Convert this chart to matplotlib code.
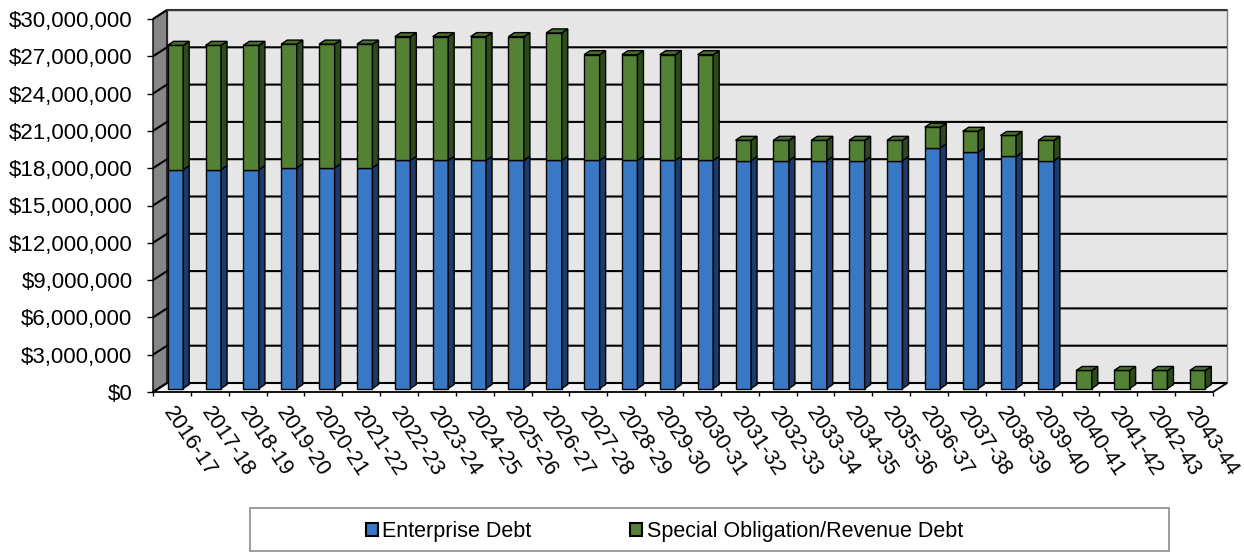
import numpy as np
import matplotlib
matplotlib.use("Agg")
import matplotlib.pyplot as plt
from matplotlib.patches import Polygon, Patch, Rectangle
from matplotlib.ticker import FuncFormatter
import matplotlib.transforms as mtrans

plt.rcParams['font.family'] = ['Liberation Sans', 'DejaVu Sans']

# ---------------- data ----------------
fiscal_years = ["2016-17", "2017-18", "2018-19", "2019-20", "2020-21", "2021-22",
                "2022-23", "2023-24", "2024-25", "2025-26", "2026-27", "2027-28",
                "2028-29", "2029-30", "2030-31", "2031-32", "2032-33", "2033-34",
                "2034-35", "2035-36", "2036-37", "2037-38", "2038-39", "2039-40",
                "2040-41", "2041-42", "2042-43", "2043-44"]
enterprise_debt = [17600000, 17600000, 17600000, 17750000, 17750000, 17750000,
                   18350000, 18350000, 18350000, 18350000, 18350000, 18350000,
                   18350000, 18350000, 18350000, 18330000, 18330000, 18330000,
                   18330000, 18330000, 19360000, 19000000, 18660000, 18330000,
                   0, 0, 0, 0]
special_debt = [10000000, 10000000, 10000000, 9950000, 9950000, 9950000,
                9950000, 9950000, 9950000, 9950000, 10250000, 8500000,
                8500000, 8500000, 8500000, 1630000, 1630000, 1630000,
                1630000, 1630000, 1660000, 1690000, 1690000, 1630000,
                1450000, 1450000, 1450000, 1450000]
series_names = ["Enterprise Debt", "Special Obligation/Revenue Debt"]
y_ticks = [0, 3000000, 6000000, 9000000, 12000000, 15000000, 18000000,
           21000000, 24000000, 27000000, 30000000]

# ---------------- style / layout ----------------
W, H, DPI = 1244, 552, 100
FRONT_L, FRONT_R, FRONT_B, FRONT_T = 153, 1213, 392, 19
WALL_DEPTH = (14, 9)       # px (right, up)
BAR_OFFSET = (3.5, 3.5)    # px
BAR_DEPTH = (6.0, 4.0)     # px
BAR_W = 0.41

blue_front, blue_side, blue_top = "#3878C4", "#1B3C6B", "#2C5F9E"
green_front, green_side, green_top = "#548235", "#2C4A1B", "#466F2C"

fig = plt.figure(figsize=(W / DPI, H / DPI), dpi=DPI)
ax = fig.add_axes([FRONT_L / W, (H - FRONT_B) / H,
                   (FRONT_R - FRONT_L) / W, (FRONT_B - FRONT_T) / H])
n = len(fiscal_years)
ymax = y_ticks[-1]
ax.set_xlim(0, n)
ax.set_ylim(0, ymax)
for s in ax.spines.values():
    s.set_visible(False)
ax.patch.set_visible(False)

# pixel -> data conversion factors
sx = n / (FRONT_R - FRONT_L)
sy = ymax / (FRONT_B - FRONT_T)


def shift(pt, d):
    return (pt[0] + d[0] * sx, pt[1] + d[1] * sy)


def poly(pts, fc, ec="black", lw=1.0, z=1):
    p = Polygon(pts, closed=True, facecolor=fc, edgecolor=ec, linewidth=lw,
                zorder=z, clip_on=False, joinstyle="miter")
    ax.add_patch(p)


D = WALL_DEPTH
# back wall
poly([shift((0, 0), D), shift((n, 0), D), shift((n, ymax), D), shift((0, ymax), D)],
     "#E6E6E6", ec="#7F7F7F", lw=1.0, z=0.5)
# left wall
poly([(0, 0), shift((0, 0), D), shift((0, ymax), D), (0, ymax)],
     "#868686", ec="black", lw=1.0, z=0.6)
# floor
poly([(0, 0), (n, 0), shift((n, 0), D), shift((0, 0), D)],
     "#F4F4F4", ec="black", lw=1.3, z=0.6)

# gridlines on side wall + back wall
for v in y_ticks:
    a = (0, v)
    b = shift((0, v), D)
    c = shift((n, v), D)
    ax.plot([a[0], b[0], c[0]], [a[1], b[1], c[1]], color="black", lw=1.5,
            zorder=0.8, clip_on=False, solid_capstyle="butt")
ax.plot([shift((0, ymax), D)[0], shift((n, ymax), D)[0]],
        [shift((0, ymax), D)[1], shift((n, ymax), D)[1]], color="#404040", lw=1.2,
        zorder=0.9, clip_on=False)

# bars
for i in range(n):
    x0, yb = shift((i + 0.5 - BAR_W / 2, 0), BAR_OFFSET)
    x1 = x0 + BAR_W
    segs = [(enterprise_debt[i], blue_front, blue_side, blue_top),
            (special_debt[i], green_front, green_side, green_top)]
    base = yb
    top_color = None
    for val, fcol, scol, tcol in segs:
        if val <= 0:
            continue
        y0, y1 = base, base + val
        poly([(x0, y0), (x1, y0), (x1, y1), (x0, y1)], fcol, lw=1.0, z=2)
        poly([(x1, y0), shift((x1, y0), BAR_DEPTH), shift((x1, y1), BAR_DEPTH), (x1, y1)],
             scol, lw=1.0, z=2)
        base = y1
        top_color = tcol
    if top_color is not None:
        poly([(x0, base), (x1, base), shift((x1, base), BAR_DEPTH), shift((x0, base), BAR_DEPTH)],
             top_color, lw=1.0, z=2.1)

# y axis
ax.set_yticks(y_ticks)
ax.yaxis.set_major_formatter(FuncFormatter(lambda v, p: f"${v:,.0f}"))
ax.tick_params(axis="y", length=4.3, width=1.0, color="black", pad=10.5,
               labelsize=16, labelcolor="black")

# x axis
centers = np.arange(n) + 0.5
ax.set_xticks(centers)
ax.set_xticklabels(fiscal_years, rotation=-56, ha="left", va="top",
                   rotation_mode="anchor", fontsize=15.5)
ax.set_xticks(np.arange(n + 1), minor=True)
ax.tick_params(axis="x", which="major", length=0, pad=8.0)
ax.tick_params(axis="x", which="minor", length=3.0, width=1.0, color="black")
for lbl in ax.get_xticklabels():
    lbl.set_transform(lbl.get_transform() +
                      mtrans.ScaledTranslation(4 / DPI, 0, fig.dpi_scale_trans))

# legend
frame = Rectangle((250 / W, 1 - 551 / H), 919 / W, 43 / H, transform=fig.transFigure,
                  facecolor="white", edgecolor="#8C8C8C", linewidth=1.2, zorder=0)
fig.add_artist(frame)
handles = [Patch(facecolor=blue_front, edgecolor="black", linewidth=1.5),
           Patch(facecolor=green_front, edgecolor="black", linewidth=1.5)]
leg = fig.legend(handles, series_names, loc="center left",
                 bbox_to_anchor=(366 / W, 1 - 532 / H), ncol=2, frameon=False,
                 fontsize=15.5, handlelength=0.55, handleheight=0.55,
                 handletextpad=0.2, columnspacing=4.6, borderpad=0,
                 borderaxespad=0)
leg.set_zorder(5)

fig.savefig("out.png", dpi=DPI)
